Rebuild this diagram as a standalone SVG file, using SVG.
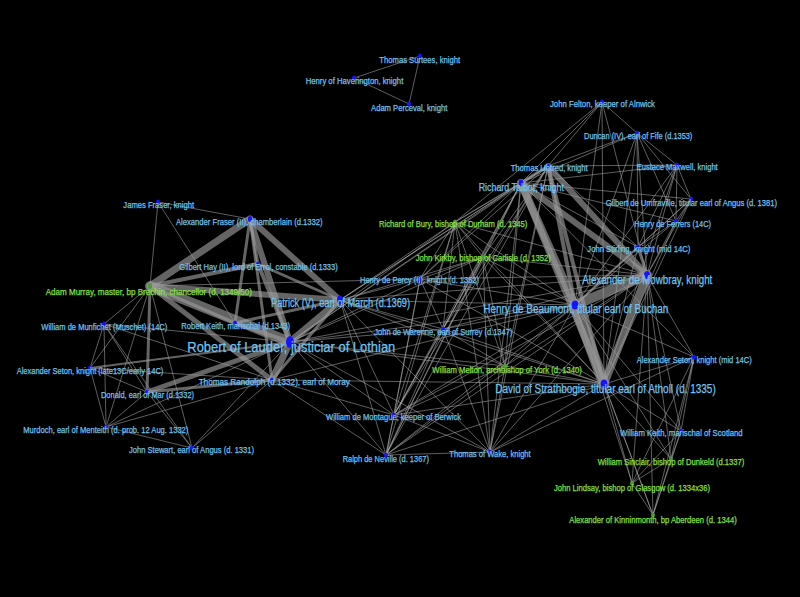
<svg xmlns="http://www.w3.org/2000/svg" width="800" height="597" viewBox="0 0 800 597">
<style>
.e{stroke:#a8a8a8;stroke-width:0.75;fill:none;opacity:0.75}
.w line{stroke:#9a9a9a;stroke-linecap:round;opacity:0.65}
text{font-family:"Liberation Sans Narrow","Liberation Sans",Arial,sans-serif;text-anchor:middle;font-size:9.5px;fill:#70c4f0;stroke:#70c4f0;stroke-width:0.25}
text.gr{fill:#86e040;stroke:#86e040}
.m{font-size:11px}.b{font-size:12.5px}.h{font-size:15.5px}
.d{fill:#1414ff}.dg{fill:#4a9a3a}
</style>
<rect width="800" height="597" fill="#000"/>
<g id="connectors">
<path class="e" d="M420 56L354 78M420 56L409 104M354 78L409 104
M420 279L340 300M420 279L290 342M420 279L150 286M420 279L521 183M420 279L548 166M420 279L575 305M420 279L647 275M420 279L604 384M420 279L443 329M420 279L455 222M420 279L483 257M420 279L394 415M420 279L386 455
M455 222L340 300M455 222L521 183M455 222L548 166M455 222L575 305M455 222L647 275M455 222L604 384M455 222L483 257M455 222L443 329M455 222L505 366M455 222L394 415M455 222L386 455M455 222L490 452M455 222L602 102M455 222L290 342
M483 257L340 300M483 257L521 183M483 257L548 166M483 257L575 305M483 257L647 275M483 257L604 384M483 257L443 329M483 257L505 366M483 257L394 415M483 257L386 455M483 257L490 452M483 257L290 342
M443 329L340 300M443 329L290 342M443 329L521 183M443 329L548 166M443 329L575 305M443 329L647 275M443 329L604 384M443 329L505 366M443 329L394 415M443 329L386 455M443 329L490 452
M505 366L340 300M505 366L290 342M505 366L521 183M505 366L575 305M505 366L647 275M505 366L604 384M505 366L394 415M505 366L386 455M505 366L490 452M505 366L548 166
M394 415L340 300M394 415L290 342M394 415L521 183M394 415L548 166M394 415L575 305M394 415L647 275M394 415L604 384M394 415L386 455M394 415L490 452M394 415L272 380
M386 455L340 300M386 455L290 342M386 455L521 183M386 455L548 166M386 455L575 305M386 455L647 275M386 455L604 384M386 455L490 452M386 455L272 380
M490 452L340 300M490 452L521 183M490 452L548 166M490 452L575 305M490 452L647 275M490 452L604 384M490 452L290 342M490 452L694 357
M602 102L548 166M602 102L521 183M602 102L647 275M602 102L575 305M602 102L637 133M602 102L604 384
M637 133L548 166M637 133L677 165M637 133L691 199M637 133L676 221M637 133L638 247M637 133L647 275M637 133L575 305M637 133L604 384M637 133L521 183
M677 165L691 199M677 165L676 221M677 165L638 247M677 165L647 275M677 165L521 183M677 165L575 305M677 165L604 384M677 165L548 166
M691 199L676 221M691 199L638 247M691 199L647 275M691 199L521 183M691 199L604 384M691 199L575 305
M676 221L638 247M676 221L647 275M676 221L575 305M676 221L604 384M676 221L521 183
M638 247L521 183M638 247L548 166M638 247L604 384
M694 357L647 275M694 357L575 305M694 357L604 384M694 357L681 431M694 357L671 459M694 357L632 483M694 357L653 515M694 357L521 183
M681 431L647 275M681 431L604 384M681 431L575 305M681 431L671 459M681 431L632 483M681 431L653 515
M671 459L604 384M671 459L575 305M671 459L647 275M671 459L632 483M671 459L653 515
M632 483L604 384M632 483L575 305M632 483L647 275M632 483L653 515
M653 515L604 384M653 515L575 305M653 515L647 275
M158 202L250 219M158 202L150 286M158 202L235 323
M104 324L150 286M104 324L90 368M104 324L147 392M104 324L106 427M104 324L290 342M104 324L272 380M104 324L192 448
M90 368L150 286M90 368L147 392M90 368L106 427M90 368L272 380
M147 392L106 427M147 392L192 448
M106 427L192 448M106 427L272 380M106 427L290 342M106 427L150 286
M192 448L272 380M192 448L290 342M192 448L150 286
M290 342L575 305M290 342L604 384M290 342L647 275M290 342L521 183M290 342L548 166
M340 300L521 183M340 300L548 166M340 300L575 305M340 300L647 275M340 300L604 384
M272 380L575 305M272 380L604 384"/>
<g class="w">
<line x1="150" y1="286" x2="290" y2="342" stroke-width="10"/>
<line x1="150" y1="286" x2="250" y2="219" stroke-width="7"/>
<line x1="150" y1="286" x2="340" y2="300" stroke-width="6"/>
<line x1="150" y1="286" x2="258" y2="264" stroke-width="4"/>
<line x1="150" y1="286" x2="235" y2="323" stroke-width="3"/>
<line x1="150" y1="286" x2="272" y2="380" stroke-width="5"/>
<line x1="150" y1="286" x2="147" y2="392" stroke-width="3"/>
<line x1="250" y1="219" x2="290" y2="342" stroke-width="6"/>
<line x1="250" y1="219" x2="340" y2="300" stroke-width="6"/>
<line x1="250" y1="219" x2="235" y2="323" stroke-width="3"/>
<line x1="250" y1="219" x2="272" y2="380" stroke-width="3"/>
<line x1="250" y1="219" x2="258" y2="264" stroke-width="3"/>
<line x1="258" y1="264" x2="340" y2="300" stroke-width="3"/>
<line x1="258" y1="264" x2="290" y2="342" stroke-width="4"/>
<line x1="340" y1="300" x2="290" y2="342" stroke-width="7"/>
<line x1="290" y1="342" x2="272" y2="380" stroke-width="7"/>
<line x1="235" y1="323" x2="290" y2="342" stroke-width="4"/>
<line x1="235" y1="323" x2="340" y2="300" stroke-width="3"/>
<line x1="290" y1="342" x2="147" y2="392" stroke-width="5"/>
<line x1="290" y1="342" x2="90" y2="368" stroke-width="2"/>
<line x1="272" y1="380" x2="147" y2="392" stroke-width="3"/>
<line x1="340" y1="300" x2="272" y2="380" stroke-width="3"/>
<line x1="521" y1="183" x2="575" y2="305" stroke-width="8"/>
<line x1="521" y1="183" x2="604" y2="384" stroke-width="7"/>
<line x1="521" y1="183" x2="647" y2="275" stroke-width="6"/>
<line x1="548" y1="166" x2="647" y2="275" stroke-width="6"/>
<line x1="548" y1="166" x2="575" y2="305" stroke-width="4"/>
<line x1="548" y1="166" x2="604" y2="384" stroke-width="4"/>
<line x1="521" y1="183" x2="548" y2="166" stroke-width="3"/>
<line x1="575" y1="305" x2="647" y2="275" stroke-width="10"/>
<line x1="575" y1="305" x2="604" y2="384" stroke-width="11"/>
<line x1="647" y1="275" x2="604" y2="384" stroke-width="8"/>
<line x1="638" y1="247" x2="647" y2="275" stroke-width="3"/>
<line x1="638" y1="247" x2="575" y2="305" stroke-width="2"/>
</g>
</g>
<g id="TS"><ellipse class="d" cx="420" cy="56" rx="2" ry="2.6"/><text x="419.7" y="62.5" textLength="80.7" lengthAdjust="spacingAndGlyphs">Thomas Surtees, knight</text></g>
<g id="HH"><ellipse class="d" cx="354" cy="78" rx="2" ry="2.6"/><text x="354.5" y="84.4" textLength="97.6" lengthAdjust="spacingAndGlyphs">Henry of Haverington, knight</text></g>
<g id="AP"><ellipse class="d" cx="409" cy="104" rx="2" ry="2.6"/><text x="409.2" y="110.6" textLength="76.3" lengthAdjust="spacingAndGlyphs">Adam Perceval, knight</text></g>
<g id="JF"><ellipse class="d" cx="602" cy="102" rx="2" ry="2.6"/><text x="602.5" y="107.4" textLength="105" lengthAdjust="spacingAndGlyphs">John Felton, keeper of Alnwick</text></g>
<g id="DU"><ellipse class="d" cx="637" cy="133" rx="2" ry="2.6"/><text x="638.2" y="139" textLength="108.3" lengthAdjust="spacingAndGlyphs">Duncan (IV), earl of Fife (d.1353)</text></g>
<g id="TU"><ellipse class="d" cx="548" cy="166" rx="2" ry="2.6"/><text x="549.2" y="170.7" textLength="77" lengthAdjust="spacingAndGlyphs">Thomas Uhtred, knight</text></g>
<g id="EM"><ellipse class="d" cx="677" cy="165" rx="2" ry="2.6"/><text x="677.2" y="170" textLength="81" lengthAdjust="spacingAndGlyphs">Eustace Maxwell, knight</text></g>
<g id="RT"><ellipse class="d" cx="521" cy="183" rx="2.5" ry="3.4"/><text class="m" x="521.3" y="190.5" textLength="85.3" lengthAdjust="spacingAndGlyphs">Richard Talbot, knight</text></g>
<g id="GU"><ellipse class="d" cx="691" cy="199" rx="2" ry="2.6"/><text x="691.3" y="205.6" textLength="171.3" lengthAdjust="spacingAndGlyphs">Gilbert de Umfraville, titular earl of Angus (d. 1381)</text></g>
<g id="HF"><ellipse class="d" cx="676" cy="221" rx="2" ry="2.6"/><text x="672.7" y="227" textLength="76.7" lengthAdjust="spacingAndGlyphs">Henry de Ferrers (14C)</text></g>
<g id="RB"><ellipse class="dg" cx="455" cy="222" rx="2" ry="2.6"/><text class="gr" x="453.2" y="227" textLength="148.3" lengthAdjust="spacingAndGlyphs">Richard of Bury, bishop of Durham (d. 1345)</text></g>
<g id="JS"><ellipse class="d" cx="638" cy="247" rx="2" ry="2.6"/><text x="638.8" y="252" textLength="103" lengthAdjust="spacingAndGlyphs">John Stirling, knight (mid 14C)</text></g>
<g id="JK"><ellipse class="dg" cx="483" cy="257" rx="2" ry="2.6"/><text class="gr" x="483.2" y="261" textLength="135" lengthAdjust="spacingAndGlyphs">John Kirkby, bishop of Carlisle (d. 1352)</text></g>
<g id="AM"><ellipse class="d" cx="647" cy="275" rx="3" ry="4"/><text class="b" x="647.3" y="283.7" textLength="130" lengthAdjust="spacingAndGlyphs">Alexander de Mowbray, knight</text></g>
<g id="HP"><ellipse class="d" cx="420" cy="279" rx="2" ry="2.6"/><text x="419.5" y="283" textLength="119" lengthAdjust="spacingAndGlyphs">Henry de Percy (II), knight (d. 1352)</text></g>
<g id="HB"><ellipse class="d" cx="575" cy="305" rx="3.4" ry="4.6"/><text class="b" x="575.8" y="313" textLength="185" lengthAdjust="spacingAndGlyphs">Henry de Beaumont, titular earl of Buchan</text></g>
<g id="JW"><ellipse class="d" cx="443" cy="329" rx="2" ry="2.6"/><text x="443.3" y="335" textLength="138" lengthAdjust="spacingAndGlyphs">John de Warenne, earl of Surrey (d.1347)</text></g>
<g id="WM"><ellipse class="dg" cx="505" cy="366" rx="2" ry="2.6"/><text class="gr" x="507" y="372.6" textLength="149.4" lengthAdjust="spacingAndGlyphs">William Melton, archbishop of York (d. 1340)</text></g>
<g id="ASm"><ellipse class="d" cx="694" cy="357" rx="2" ry="2.6"/><text x="694.2" y="362.5" textLength="115" lengthAdjust="spacingAndGlyphs">Alexander Seton, knight (mid 14C)</text></g>
<g id="DS"><ellipse class="d" cx="604" cy="384" rx="3.4" ry="4.6"/><text class="b" x="605.5" y="393" textLength="220.4" lengthAdjust="spacingAndGlyphs">David of Strathbogie, titular earl of Atholl (d. 1335)</text></g>
<g id="WMo"><ellipse class="d" cx="394" cy="415" rx="2" ry="2.6"/><text x="393.5" y="419.6" textLength="135" lengthAdjust="spacingAndGlyphs">William de Montague, keeper of Berwick</text></g>
<g id="RN"><ellipse class="d" cx="386" cy="455" rx="2" ry="2.6"/><text x="385.8" y="461.5" textLength="86.3" lengthAdjust="spacingAndGlyphs">Ralph de Neville (d. 1367)</text></g>
<g id="TW"><ellipse class="d" cx="490" cy="452" rx="2" ry="2.6"/><text x="490" y="457" textLength="81.4" lengthAdjust="spacingAndGlyphs">Thomas of Wake, knight</text></g>
<g id="WK"><ellipse class="d" cx="681" cy="431" rx="2" ry="2.6"/><text x="681.3" y="436" textLength="122.7" lengthAdjust="spacingAndGlyphs">William Keith, marischal of Scotland</text></g>
<g id="WS"><ellipse class="dg" cx="671" cy="459" rx="2" ry="2.6"/><text class="gr" x="671" y="465.4" textLength="146.6" lengthAdjust="spacingAndGlyphs">William Sinclair, bishop of Dunkeld (d.1337)</text></g>
<g id="JL"><ellipse class="dg" cx="632" cy="483" rx="2" ry="2.6"/><text class="gr" x="632" y="490.5" textLength="156" lengthAdjust="spacingAndGlyphs">John Lindsay, bishop of Glasgow (d. 1334x36)</text></g>
<g id="AK"><ellipse class="dg" cx="653" cy="515" rx="2" ry="2.6"/><text class="gr" x="653" y="523" textLength="167.4" lengthAdjust="spacingAndGlyphs">Alexander of Kinninmonth, bp Aberdeen (d. 1344)</text></g>
<g id="JaF"><ellipse class="d" cx="158" cy="202" rx="2" ry="2.6"/><text x="158.7" y="208.3" textLength="70.7" lengthAdjust="spacingAndGlyphs">James Fraser, knight</text></g>
<g id="AF"><ellipse class="d" cx="250" cy="219" rx="2.2" ry="3"/><text x="249.3" y="225" textLength="146.7" lengthAdjust="spacingAndGlyphs">Alexander Fraser (II), chamberlain (d.1332)</text></g>
<g id="GH"><ellipse class="d" cx="258" cy="264" rx="2" ry="2.6"/><text x="258.5" y="270.3" textLength="158.4" lengthAdjust="spacingAndGlyphs">Gilbert Hay (II), lord of Errol, constable (d.1333)</text></g>
<g id="AMu"><ellipse class="dg" cx="150" cy="286" rx="2.2" ry="3"/><text class="gr" x="148.8" y="294.5" textLength="206.3" lengthAdjust="spacingAndGlyphs">Adam Murray, master, bp Brechin, chancellor (d. 1349/50)</text></g>
<g id="PA"><ellipse class="d" cx="340" cy="300" rx="3" ry="4.4"/><text class="b" x="340.5" y="307" textLength="139" lengthAdjust="spacingAndGlyphs">Patrick (V), earl of March (d.1369)</text></g>
<g id="RK"><ellipse class="d" cx="235" cy="323" rx="2" ry="2.6"/><text x="235.7" y="328.5" textLength="108.7" lengthAdjust="spacingAndGlyphs">Robert Keith, marischal (d.1343)</text></g>
<g id="RL"><ellipse class="d" cx="290" cy="342" rx="4" ry="6"/><text class="h" x="291.3" y="352.4" textLength="208" lengthAdjust="spacingAndGlyphs">Robert of Lauder, justiciar of Lothian</text></g>
<g id="TR"><ellipse class="d" cx="272" cy="380" rx="2" ry="2.6"/><text x="274.3" y="385.3" textLength="151.3" lengthAdjust="spacingAndGlyphs">Thomas Randolph (d.1332), earl of Moray</text></g>
<g id="WdM"><ellipse class="d" cx="104" cy="324" rx="2" ry="2.6"/><text x="104.3" y="330" textLength="126" lengthAdjust="spacingAndGlyphs">William de Munfichet (Muschet) (14C)</text></g>
<g id="ASl"><ellipse class="d" cx="90" cy="368" rx="2" ry="2.6"/><text x="90" y="374.2" textLength="146.6" lengthAdjust="spacingAndGlyphs">Alexander Seton, knight (late13C/early 14C)</text></g>
<g id="DM"><ellipse class="d" cx="147" cy="392" rx="2" ry="2.6"/><text x="147.5" y="397.5" textLength="93" lengthAdjust="spacingAndGlyphs">Donald, earl of Mar (d.1332)</text></g>
<g id="MM"><ellipse class="d" cx="106" cy="427" rx="2" ry="2.6"/><text x="105.8" y="432.5" textLength="165" lengthAdjust="spacingAndGlyphs">Murdoch, earl of Menteith (d. prob. 12 Aug. 1332)</text></g>
<g id="JSt"><ellipse class="d" cx="192" cy="448" rx="2" ry="2.6"/><text x="191.5" y="453.3" textLength="125" lengthAdjust="spacingAndGlyphs">John Stewart, earl of Angus (d. 1331)</text></g>
</svg>
